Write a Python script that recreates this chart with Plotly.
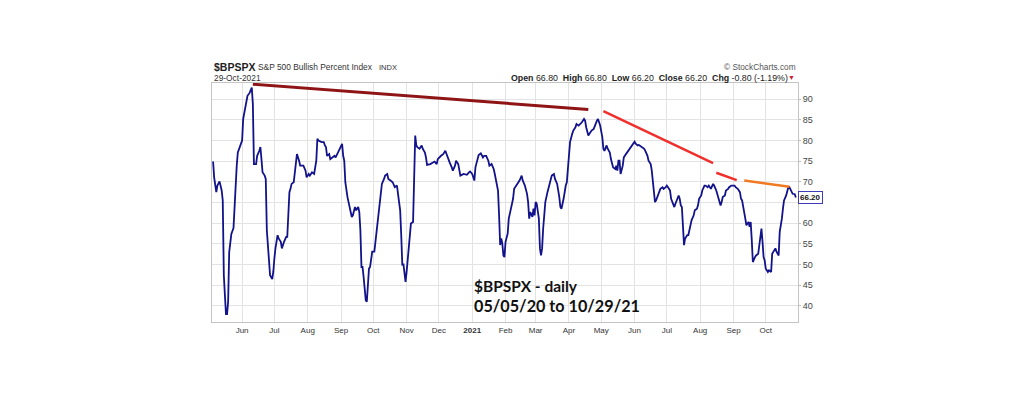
import plotly.graph_objects as go

# ---------------- data ----------------
dates = [
 "2020-05-05","2020-05-06","2020-05-08","2020-05-09","2020-05-11","2020-05-13","2020-05-14","2020-05-15","2020-05-16","2020-05-17",
 "2020-05-18","2020-05-19","2020-05-20","2020-05-21","2020-05-22","2020-05-24","2020-05-25","2020-05-26","2020-05-27","2020-05-28",
 "2020-05-30","2020-06-01","2020-06-02","2020-06-03","2020-06-05","2020-06-06","2020-06-08","2020-06-10","2020-06-11","2020-06-12",
 "2020-06-14","2020-06-15","2020-06-17","2020-06-18","2020-06-19","2020-06-20","2020-06-22","2020-06-23","2020-06-24","2020-06-25",
 "2020-06-26","2020-06-27","2020-06-29","2020-06-30","2020-07-01","2020-07-02","2020-07-04","2020-07-05","2020-07-07","2020-07-08",
 "2020-07-10","2020-07-12","2020-07-13","2020-07-14","2020-07-15","2020-07-16","2020-07-17","2020-07-19","2020-07-20","2020-07-21",
 "2020-07-22","2020-07-24","2020-07-25","2020-07-28","2020-07-30","2020-07-31","2020-08-02","2020-08-03","2020-08-05","2020-08-07",
 "2020-08-09","2020-08-10","2020-08-11","2020-08-14","2020-08-16","2020-08-17","2020-08-18","2020-08-19","2020-08-21","2020-08-22",
 "2020-08-24","2020-08-26","2020-08-27","2020-08-29","2020-08-31","2020-09-02","2020-09-03","2020-09-04","2020-09-05","2020-09-06",
 "2020-09-07","2020-09-08","2020-09-09","2020-09-11","2020-09-12","2020-09-14","2020-09-15","2020-09-17","2020-09-18","2020-09-19",
 "2020-09-20","2020-09-21","2020-09-22","2020-09-23","2020-09-24","2020-09-25","2020-09-26","2020-09-27","2020-09-28","2020-09-29",
 "2020-09-30","2020-10-02","2020-10-03","2020-10-04","2020-10-05","2020-10-06","2020-10-07","2020-10-08","2020-10-09","2020-10-11",
 "2020-10-12","2020-10-14","2020-10-15","2020-10-17","2020-10-19","2020-10-21","2020-10-23","2020-10-25","2020-10-26","2020-10-27",
 "2020-10-28","2020-10-29","2020-10-30","2020-10-31","2020-11-01","2020-11-02","2020-11-03","2020-11-04","2020-11-05","2020-11-07",
 "2020-11-09","2020-11-10","2020-11-11","2020-11-13","2020-11-15","2020-11-16","2020-11-18","2020-11-19","2020-11-20","2020-11-23",
 "2020-11-25","2020-11-27","2020-11-29","2020-11-30","2020-12-03","2020-12-05","2020-12-07","2020-12-08","2020-12-10","2020-12-11",
 "2020-12-13","2020-12-14","2020-12-16","2020-12-17","2020-12-19","2020-12-20","2020-12-21","2020-12-24","2020-12-27","2020-12-29",
 "2020-12-30","2021-01-01","2021-01-03","2021-01-04","2021-01-06","2021-01-07","2021-01-09","2021-01-11","2021-01-12","2021-01-14",
 "2021-01-16","2021-01-17","2021-01-19","2021-01-21","2021-01-22","2021-01-24","2021-01-25","2021-01-26","2021-01-27","2021-01-28",
 "2021-01-29","2021-01-30","2021-01-31","2021-02-01","2021-02-03","2021-02-04","2021-02-06","2021-02-08","2021-02-09","2021-02-11",
 "2021-02-12","2021-02-14","2021-02-16","2021-02-17","2021-02-19","2021-02-21","2021-02-22","2021-02-23","2021-02-24","2021-02-26",
 "2021-02-27","2021-02-28","2021-03-01","2021-03-02","2021-03-04","2021-03-05","2021-03-06","2021-03-07","2021-03-08","2021-03-09",
 "2021-03-10","2021-03-12","2021-03-13","2021-03-15","2021-03-16","2021-03-18","2021-03-19","2021-03-21","2021-03-22","2021-03-23",
 "2021-03-24","2021-03-25","2021-03-27","2021-03-28","2021-03-29","2021-03-30","2021-03-31","2021-04-01","2021-04-02","2021-04-04",
 "2021-04-05","2021-04-07","2021-04-08","2021-04-10","2021-04-12","2021-04-13","2021-04-15","2021-04-16","2021-04-17","2021-04-19",
 "2021-04-20","2021-04-22","2021-04-24","2021-04-25","2021-04-27","2021-04-28","2021-04-29","2021-04-30","2021-05-02","2021-05-03",
 "2021-05-04","2021-05-06","2021-05-07","2021-05-09","2021-05-10","2021-05-12","2021-05-14","2021-05-15","2021-05-16","2021-05-17",
 "2021-05-18","2021-05-19","2021-05-21","2021-05-22","2021-05-24","2021-05-25","2021-05-27","2021-05-28","2021-05-30","2021-06-01",
 "2021-06-02","2021-06-04","2021-06-05","2021-06-07","2021-06-08","2021-06-10","2021-06-11","2021-06-13","2021-06-14","2021-06-16",
 "2021-06-17","2021-06-18","2021-06-19","2021-06-20","2021-06-21","2021-06-22","2021-06-23","2021-06-24","2021-06-25","2021-06-27",
 "2021-06-28","2021-06-30","2021-07-01","2021-07-03","2021-07-04","2021-07-05","2021-07-06","2021-07-08","2021-07-09","2021-07-11",
 "2021-07-12","2021-07-13","2021-07-14","2021-07-15","2021-07-16","2021-07-17","2021-07-18","2021-07-20","2021-07-21","2021-07-23",
 "2021-07-24","2021-07-26","2021-07-27","2021-07-29","2021-07-30","2021-07-31","2021-08-02","2021-08-03","2021-08-05","2021-08-06",
 "2021-08-08","2021-08-09","2021-08-11","2021-08-13","2021-08-14","2021-08-16","2021-08-17","2021-08-19","2021-08-20","2021-08-21",
 "2021-08-22","2021-08-24","2021-08-25","2021-08-27","2021-08-28","2021-08-30","2021-08-31","2021-09-02","2021-09-03","2021-09-05",
 "2021-09-07","2021-09-08","2021-09-09","2021-09-10","2021-09-11","2021-09-12","2021-09-13","2021-09-14","2021-09-15","2021-09-16",
 "2021-09-17","2021-09-18","2021-09-19","2021-09-21","2021-09-22","2021-09-24","2021-09-25","2021-09-26","2021-09-27","2021-09-28",
 "2021-09-29","2021-09-30","2021-10-01","2021-10-02","2021-10-03","2021-10-04","2021-10-06","2021-10-07","2021-10-09","2021-10-10",
 "2021-10-11","2021-10-13","2021-10-14","2021-10-15","2021-10-16","2021-10-17","2021-10-18","2021-10-20","2021-10-21","2021-10-22",
 "2021-10-23","2021-10-25","2021-10-26","2021-10-28","2021-10-29",
]
bpi = [
 74.9,71.1,67.5,69.1,70.1,67.9,65.5,47.4,42.6,38.0,
 38.0,41.0,53.0,54.7,57.4,58.8,64.3,70.3,73.9,77.1,
 78.8,80.0,85.2,86.8,89.8,90.8,91.5,92.8,88.8,74.3,
 74.3,76.3,77.5,78.4,75.5,72.3,71.5,70.7,58.3,54.7,
 51.4,47.4,46.5,48.2,51.4,53.9,57.1,56.3,55.5,53.9,
 55.5,56.7,56.7,62.3,67.5,68.3,69.5,69.9,72.7,74.7,
 76.7,75.1,73.9,73.9,72.7,71.1,71.9,71.5,72.3,71.9,
 75.1,80.4,80.0,79.6,79.6,78.8,78.4,76.3,76.7,75.5,
 75.9,76.3,75.9,77.1,78.0,79.2,76.3,75.1,69.9,67.5,
 66.3,65.1,63.9,61.5,61.9,63.9,63.1,63.9,62.7,58.3,
 49.4,49.4,47.0,44.2,41.4,41.0,44.2,49.0,49.4,51.8,
 53.1,53.1,55.5,58.7,61.5,63.1,65.1,67.9,69.5,70.7,
 71.5,71.9,70.7,70.3,69.9,68.7,69.1,65.1,63.1,57.1,
 49.8,50.2,47.0,45.8,48.2,51.4,54.7,57.1,59.9,60.3,
 81.2,78.8,78.4,78.0,78.8,78.0,77.1,75.9,74.1,74.3,
 74.6,74.9,74.3,75.5,76.3,76.7,77.5,76.7,75.5,74.7,
 73.5,72.7,73.9,75.1,74.3,72.3,71.5,71.9,71.7,72.3,
 72.5,71.9,70.3,73.5,75.9,76.5,76.9,75.9,76.3,76.3,
 75.1,73.9,74.3,73.1,71.9,69.1,67.9,61.9,54.7,56.3,
 55.1,52.2,51.8,55.5,57.5,61.1,63.9,65.9,68.3,69.1,
 69.8,70.3,71.5,70.3,69.1,67.1,65.1,61.1,62.7,61.5,
 63.5,61.9,65.1,64.7,61.1,53.9,52.2,53.9,58.7,62.7,
 65.1,67.5,68.7,70.7,71.5,71.9,70.7,69.5,68.3,66.3,
 63.9,63.5,65.9,67.9,69.1,69.9,72.7,76.3,79.6,81.6,
 82.4,83.2,84.0,83.6,84.0,84.4,85.2,84.8,83.2,81.2,
 81.6,82.4,82.8,83.6,84.8,85.2,84.4,83.6,80.8,78.0,
 77.5,78.8,78.0,77.1,75.5,73.5,73.1,73.9,72.7,75.1,
 75.1,71.9,73.9,75.9,76.7,77.1,78.0,78.4,79.2,79.7,
 79.2,78.8,78.9,78.6,78.4,78.0,77.5,76.3,75.1,74.3,
 72.7,69.9,67.9,65.1,65.5,66.3,66.7,67.5,68.3,68.7,
 68.3,68.7,69.1,68.3,67.9,65.9,65.1,63.9,64.7,65.9,
 66.7,65.9,64.3,63.9,57.9,54.7,56.3,57.1,57.1,59.5,
 60.7,61.9,63.1,63.5,64.3,65.9,66.7,67.9,69.1,69.1,
 68.7,69.1,68.3,69.5,69.1,67.9,67.1,65.5,64.3,65.1,
 66.3,66.7,67.9,68.3,68.7,69.1,69.1,69.1,68.7,68.3,
 67.5,65.9,65.5,64.3,62.7,61.1,59.5,59.9,60.3,59.1,
 60.3,55.9,50.6,51.8,52.2,52.6,54.7,57.9,58.7,55.5,
 51.8,51.0,49.0,48.6,48.2,48.6,48.2,52.6,53.5,53.9,
 53.1,52.2,57.9,59.1,61.1,63.5,65.5,66.7,67.9,68.7,
 68.7,67.5,67.1,67.0,66.2,
]

# trend lines drawn on the chart (start / end)
trend1_dates = ["2020-06-11", "2021-04-19"]
trend1_vals = [93.6, 87.5]
trend2_dates = ["2021-05-03", "2021-08-13"]
trend2_vals = [87.1, 74.5]
trend3_dates = ["2021-08-16", "2021-09-04"]
trend3_vals = [72.2, 70.4]
trend4_dates = ["2021-09-11", "2021-10-23"]
trend4_vals = [70.3, 68.8]

month_ticks = ["2020-06-01","2020-07-01","2020-08-01","2020-09-01","2020-10-01","2020-11-01","2020-12-01",
               "2021-01-01","2021-02-01","2021-03-01","2021-04-01","2021-05-01","2021-06-01","2021-07-01",
               "2021-08-01","2021-09-01","2021-10-01"]
month_labels = ["Jun","Jul","Aug","Sep","Oct","Nov","Dec","<b>2021</b>","Feb","Mar","Apr","May","Jun","Jul",
                "Aug","Sep","Oct"]
y_ticks = [40, 45, 50, 55, 60, 65, 70, 75, 80, 85, 90]
y_labels = ["40", "45", "50", "55", "60", "", "70", "75", "80", "85", "90"]  # 65 sits under the last-value tag
last_close = 66.20

# ---------------- figure ----------------
fig = go.Figure()
fig.add_trace(go.Scatter(x=dates, y=bpi, mode="lines",
                         line=dict(color="#12128a", width=1.8), hoverinfo="skip", showlegend=False))
for d, v, c, w in [(trend1_dates, trend1_vals, "#8e1416", 3),
                   (trend2_dates, trend2_vals, "#f0302c", 2.5),
                   (trend3_dates, trend3_vals, "#f0302c", 2.5),
                   (trend4_dates, trend4_vals, "#f07a22", 2.5)]:
    fig.add_trace(go.Scatter(x=d, y=v, mode="lines", line=dict(color=c, width=w),
                             hoverinfo="skip", showlegend=False))

F = "Liberation Sans, Arial, sans-serif"
fig.update_layout(
    width=1014, height=386,
    margin=dict(l=204, r=224, t=75, b=72),
    paper_bgcolor="white", plot_bgcolor="white",
    font=dict(family=F, size=9, color="#333333"),
    xaxis=dict(range=["2020-05-04", "2021-10-31"], tickvals=month_ticks, ticktext=month_labels,
               showgrid=True, gridcolor="#e3e3e3", gridwidth=1, zeroline=False,
               showline=True, linecolor="#c4c4c4", linewidth=1, mirror=True,
               ticks="", tickfont=dict(size=8, color="#333333")),
    yaxis=dict(range=[36.1, 93.9], side="right", tickvals=y_ticks, ticktext=y_labels,
               showgrid=True, gridcolor="#e3e3e3", gridwidth=1, zeroline=False,
               showline=True, linecolor="#c4c4c4", linewidth=1, mirror=True,
               ticks="outside", ticklen=2, tickcolor="#bbbbbb",
               tickfont=dict(size=9, color="#444444")),
)

ann = [
    dict(x=0, y=1.068, xanchor="left", yanchor="middle", text="<b>$BPSPX</b>",
         font=dict(size=10.5, color="#222222", family=F)),
    dict(x=0.075, y=1.066, xanchor="left", yanchor="middle", text="S&P 500 Bullish Percent Index",
         font=dict(size=8.4, color="#333333", family=F)),
    dict(x=0.281, y=1.064, xanchor="left", yanchor="middle", text="INDX",
         font=dict(size=7.5, color="#333333", family=F)),
    dict(x=0, y=1.022, xanchor="left", yanchor="middle", text="29-Oct-2021",
         font=dict(size=8.4, color="#333333", family=F)),
    dict(x=1.0, y=1.068, xanchor="right", yanchor="middle", text="© StockCharts.com",
         font=dict(size=8.3, color="#555555", family=F)),
    dict(x=0.987, y=1.022, xanchor="right", yanchor="middle",
         text="<b>Open</b> 66.80  <b>High</b> 66.80  <b>Low</b> 66.20  <b>Close</b> 66.20  <b>Chg</b> -0.80 (-1.19%)",
         font=dict(size=8.8, color="#222222", family=F)),
    dict(x=0.999, y=1.022, xanchor="right", yanchor="middle", text="▼",
         font=dict(size=7, color="#cc1f3a", family=F)),
]
for a in ann:
    a.update(xref="paper", yref="paper", showarrow=False)
    fig.add_annotation(**a)

# last value tag on the right axis
fig.add_annotation(xref="paper", yref="y", x=1.0, y=last_close, xanchor="left", yanchor="middle",
                   xshift=0, text=f"<b>{last_close:.2f}</b>", showarrow=False,
                   font=dict(size=8, color="#111111", family=F),
                   bgcolor="white", bordercolor="#3d3db8", borderwidth=1, borderpad=1)

# caption inside the chart
fig.add_annotation(xref="paper", yref="paper", x=0.4437, y=0.151, xanchor="left", yanchor="middle",
                   text="<b>$BPSPX - daily</b>", showarrow=False,
                   font=dict(size=15.5, color="#111111", family="Lato, sans-serif"))
fig.add_annotation(xref="paper", yref="paper", x=0.4437, y=0.067, xanchor="left", yanchor="middle",
                   text="<b>05/05/20 to 10/29/21</b>", showarrow=False,
                   font=dict(size=16.2, color="#111111", family="Lato, sans-serif"))

fig.write_html("out.html")
